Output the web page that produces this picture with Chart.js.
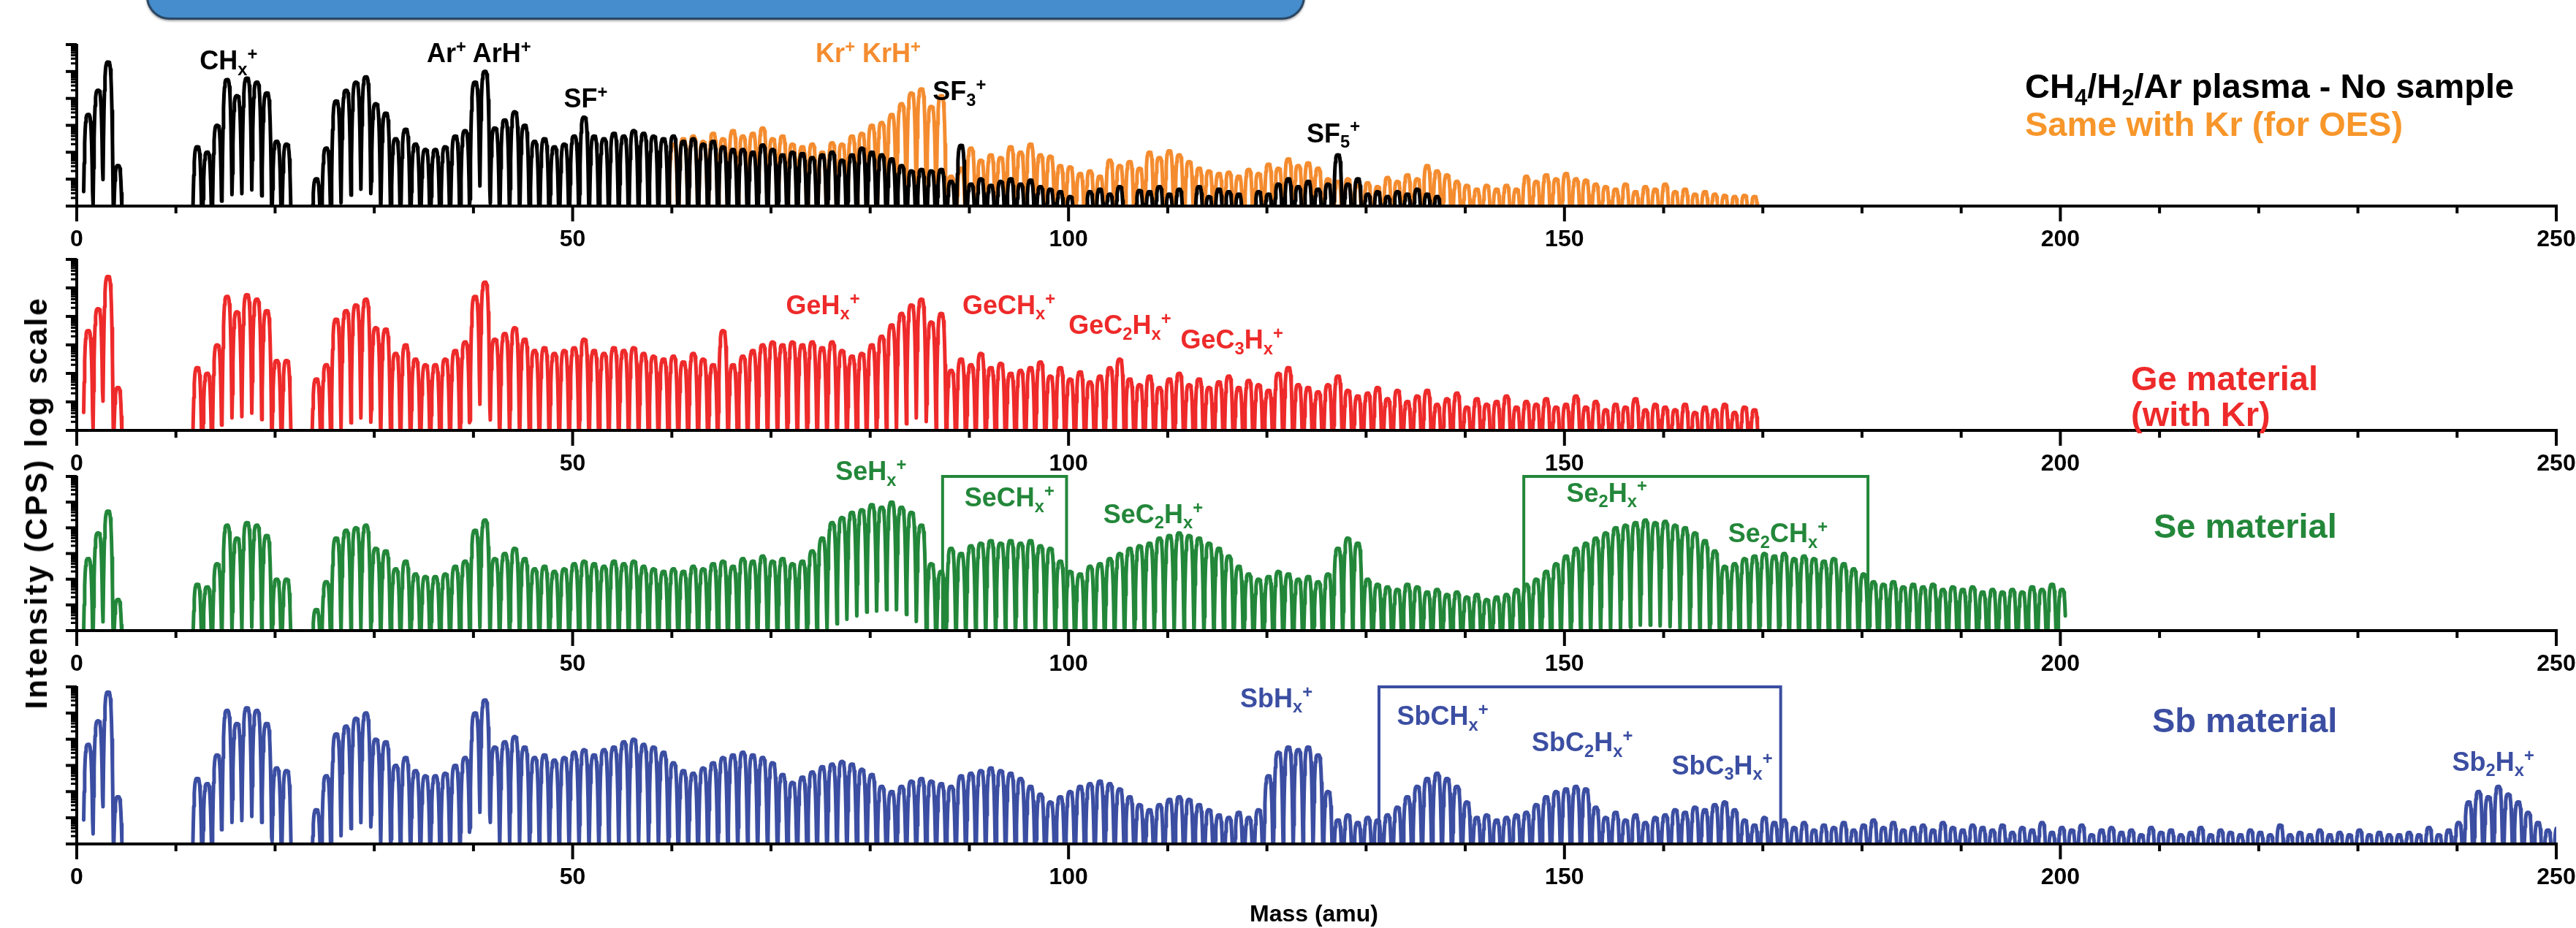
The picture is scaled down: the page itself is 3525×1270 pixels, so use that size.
<!DOCTYPE html>
<html>
<head>
<meta charset="utf-8">
<script src="https://cdn.jsdelivr.net/npm/chart.js@4.4.1/dist/chart.umd.min.js"></script>
<style>
  html, body { margin: 0; padding: 0; background: #fff; }
  body { width: 3525px; height: 1270px; position: relative; overflow: hidden;
         font-family: "Liberation Sans", Arial, Helvetica, sans-serif; }
  canvas { position: absolute; left: 0; }
  .lbl { position: absolute; font-weight: bold; white-space: nowrap; line-height: 1; z-index: 5;
         transform: translateY(-50%); }
  .lbl sub { font-size: 0.66em; vertical-align: baseline; position: relative; top: 0.32em; }
  .lbl sup { font-size: 0.66em; vertical-align: baseline; position: relative; top: -0.55em; }
  #banner { position: absolute; left: 200px; top: -79px; width: 1580px; height: 100px;
            background: #458dcc; border: 3px solid #2b4865; border-radius: 32px;
            box-shadow: 0 2px 3px rgba(0,0,0,0.35); }
  #ylab { position: absolute; left: 50px; top: 688px; font-size: 42px; font-weight: bold;
          letter-spacing: 3px; white-space: nowrap;
          transform: translate(-50%, -50%) rotate(-90deg); z-index: 5; }
  #xlab { position: absolute; left: 1798px; top: 1250px; font-size: 32px; font-weight: bold;
          white-space: nowrap; transform: translate(-50%, -50%); z-index: 5; }
</style>
</head>
<body>
<div id="banner"></div>
<div id="ylab">Intensity (CPS) log scale</div>
<div id="xlab">Mass (amu)</div>
<script>
// peak heights in decades above the axis minimum, one value per integer mass
const blackStart = 1;
const blackPeaks = [
  3.4, 4.3, 5.35, 1.5, null, null, null, null, null, null,
  null, 2.2, 2.0, 3.0, 4.7, 4.1, 4.75, 4.6, 4.2, 2.4,
  2.3, null, null, 1.0, 2.15, 3.9, 4.3, 4.6, 4.8, 3.8,
  3.45, 2.5, 2.85, 2.3, 2.1, 2.1, 2.2, 2.6, 2.8, 4.6,
  5.0, 2.9, 3.2, 3.5, 3.0, 2.4, 2.5, 2.2, 2.3, 2.6,
  3.3, 2.6, 2.5, 2.7, 2.6, 2.8, 2.7, 2.6, 2.5, 2.6,
  2.4, 2.5, 2.3, 2.4, 2.2, 2.1, 2.1, 2.0, 2.27, 2.1,
  1.9, 2.0, 1.95, 1.8, 1.9, 2.0, 1.7, 1.9, 2.15, 2.0,
  1.9, 1.75, 1.5, 1.3, 1.35, 1.3, 1.35, 0.9, 2.25, 0.8,
  1.0, 0.75, 0.9, 1.0, 0.8, 0.95, 0.7, 0.6, 0.5, 0.3,
  null, 0.5, 0.6, 0.4, 0.7, null, 0.55, 0.5, 0.7, 0.4,
  0.6, null, 0.7, 0.3, 0.6, 0.5, 0.4, null, 0.5, 0.4,
  0.8, 1.0, 0.7, 0.9, 0.6, 0.8, 1.9, 0.8, 1.0, 0.4,
  0.5, 0.3, 0.5, 0.4, 0.6, 0.4, 0.3
];
const blackRanges = [[0.7, 4.7], [11.6, 21.6], [23.7, 137.6]];

const orangeStart = 60;
const orangePeaks = [
  2.3, 2.5, 2.6, 2.4, 2.7, 2.5, 2.8, 2.6, 2.7, 2.9,
  2.5, 2.6, 2.3, 2.2, 2.3, 2.0, 2.35, 2.3, 2.6, 2.7,
  3.0, 3.1, 3.4, 3.8, 4.2, 4.35, 3.7, 4.1, 1.1, 1.4,
  2.15, 1.7, 1.9, 1.8, 2.2, 2.0, 2.3, 1.9, 1.85, 1.5,
  1.45, 1.2, 1.3, 1.1, 1.7, 1.5, 1.65, 1.4, 2.0, 1.8,
  2.05, 1.9, 1.65, 1.4, 1.3, 1.2, 1.25, 1.1, 1.35, 1.2,
  1.55, 1.4, 1.75, 1.5, 1.6, 1.4, 1.0, 0.9, 1.0, 0.8,
  0.85, 0.7, 1.05, 0.9, 1.15, 1.0, 1.5, 1.3, 1.15, 0.9,
  0.75, 0.6, 0.75, 0.6, 0.75, 0.6, 1.1, 0.9, 1.15, 1.0,
  1.2, 1.0, 0.95, 0.8, 0.7, 0.6, 0.8, 0.5, 0.7, 0.6,
  0.8, 0.5, 0.6, 0.4, 0.5, 0.4, 0.35, 0.3, 0.35, 0.3
];
const orangeRanges = [[59.6, 169.8]];

const geStart = 1;
const gePeaks = [
  3.5, 4.27, 5.4, 1.5, null, null, null, null, null, null,
  null, 2.2, 2.0, 3.0, 4.7, 4.16, 4.76, 4.6, 4.2, 2.45,
  2.45, null, null, 1.8, 2.3, 3.9, 4.2, 4.4, 4.6, 3.6,
  3.55, 2.7, 3.0, 2.5, 2.3, 2.3, 2.5, 2.8, 3.1, 4.7,
  5.2, 3.2, 3.4, 3.6, 3.2, 2.8, 2.9, 2.7, 2.8, 2.9,
  3.2, 2.8, 2.7, 2.9, 2.8, 2.9, 2.7, 2.6, 2.5, 2.6,
  2.4, 2.7, 2.5, 2.3, 3.5, 2.3, 2.6, 2.8, 3.0, 3.1,
  3.0, 3.1, 3.0, 3.1, 2.9, 3.1, 2.8, 2.6, 2.7, 3.0,
  3.3, 3.7, 4.1, 4.4, 4.6, 3.8, 4.1, 2.1, 2.5, 2.3,
  2.7, 2.2, 2.35, 2.0, 2.1, 2.2, 2.4, 1.9, 2.2, 1.8,
  2.05, 1.7, 1.9, 2.2, 2.5, 1.8, 1.6, 1.9, 1.5, 1.8,
  2.0, 1.6, 1.8, 1.5, 1.7, 1.9, 1.5, 1.75, 1.6, 1.4,
  2.0, 2.2, 1.6, 1.5, 1.35, 1.6, 1.9, 1.4, 1.2, 1.3,
  1.5, 1.1, 1.4, 1.0, 1.2, 1.4, 0.9, 1.1, 1.3, 0.8,
  1.1, 0.9, 1.0, 1.2, 0.8, 1.0, 0.9, 1.1, 0.8, 0.9,
  1.2, 0.8, 1.0, 0.7, 0.9, 0.8, 1.1, 0.7, 0.9, 0.8,
  0.7, 0.9, 0.6, 0.8, 0.7, 0.9, 0.6, 0.8, 0.7
];
const geRanges = [[0.7, 4.7], [11.6, 21.6], [23.7, 169.6]];

const seStart = 1;
const sePeaks = [
  2.8, 3.8, 4.65, 1.2, null, null, null, null, null, null,
  null, 1.8, 1.7, 2.6, 4.1, 3.6, 4.2, 4.1, 3.7, 2.0,
  2.0, null, null, 0.8, 1.9, 3.6, 3.9, 4.0, 4.1, 3.2,
  3.1, 2.4, 2.7, 2.2, 2.1, 2.1, 2.2, 2.5, 2.7, 3.9,
  4.3, 2.8, 3.0, 3.2, 2.8, 2.4, 2.5, 2.3, 2.4, 2.6,
  2.7, 2.6, 2.5, 2.7, 2.6, 2.7, 2.5, 2.4, 2.3, 2.4,
  2.3, 2.5, 2.4, 2.6, 2.7, 2.5, 2.8, 2.7, 2.9, 2.7,
  2.8, 2.6, 2.7, 3.1, 3.6, 4.2, 4.4, 4.6, 4.7, 4.9,
  4.8, 5.0, 4.8, 4.6, 4.1, 2.6, 2.3, 3.2, 3.0, 3.3,
  3.4, 3.5, 3.4, 3.5, 3.4, 3.5, 3.3, 3.2, 2.7, 2.3,
  2.2, 2.5, 2.6, 2.8, 3.0, 3.2, 3.3, 3.4, 3.6, 3.7,
  3.8, 3.7, 3.6, 3.4, 3.2, 2.9, 2.5, 2.2, 2.0, 2.1,
  2.3, 2.2, 2.0, 2.1, 1.9, 2.2, 3.2, 3.6, 3.4, 2.0,
  1.8, 1.7, 1.6, 1.8, 1.7, 1.5, 1.6, 1.4, 1.5, 1.3,
  1.4, 1.2, 1.3, 1.4, 1.6, 1.8, 2.0, 2.3, 2.6, 2.9,
  3.2, 3.4, 3.6, 3.8, 4.0, 4.1, 4.2, 4.3, 4.2, 4.25,
  4.1, 4.0, 3.8, 3.5, 3.1, 2.5, 2.6, 2.8, 2.9, 3.0,
  2.9, 3.0, 2.8, 2.9, 2.8, 2.7, 2.8, 2.6, 2.4, 2.2,
  1.9, 1.8, 1.9, 1.7, 1.8, 1.7, 1.8, 1.6, 1.7, 1.6,
  1.7, 1.5, 1.6, 1.5, 1.6, 1.5, 1.7, 1.6, 1.8, 1.6
];
const seRanges = [[0.7, 4.7], [11.6, 21.6], [23.7, 200.5]];

const sbStart = 1;
const sbPeaks = [
  3.8, 4.7, 5.8, 1.8, null, null, null, null, null, null,
  null, 2.5, 2.3, 3.4, 5.1, 4.6, 5.2, 5.1, 4.6, 2.9,
  2.8, null, null, 1.3, 2.6, 4.2, 4.5, 4.8, 5.0, 4.0,
  3.9, 3.0, 3.3, 2.8, 2.6, 2.6, 2.7, 3.0, 3.3, 5.0,
  5.5, 3.7, 3.9, 4.1, 3.7, 3.3, 3.4, 3.2, 3.3, 3.5,
  3.6, 3.4, 3.6, 3.7, 3.9, 4.0, 3.8, 3.7, 3.5, 3.1,
  2.8, 2.7, 2.9, 3.1, 3.3, 3.4, 3.5, 3.4, 3.3, 3.1,
  2.65, 2.35, 2.55, 2.75, 2.95, 3.05, 3.15, 3.05, 2.85, 2.65,
  2.2, 2.0, 2.2, 2.4, 2.5, 2.4, 2.3, 2.2, 2.6, 2.7,
  2.8, 2.9, 2.8, 2.7, 2.5, 2.2, 1.9, 1.6, 1.8, 2.0,
  2.2, 2.3, 2.4, 2.3, 2.1, 1.8, 1.5, 1.3, 1.5, 1.7,
  1.8, 1.7, 1.5, 1.3, 1.1, 1.0, 1.2, 1.0, 1.3, 2.6,
  3.5, 3.7, 3.6, 3.7, 3.4, 2.0, 0.9, 1.1, 0.8, 1.0,
  0.9, 1.1, 1.4, 1.8, 2.2, 2.5, 2.7, 2.5, 2.2, 1.6,
  1.0, 1.1, 0.9, 1.0, 1.1, 1.2, 1.5, 1.8, 2.0, 2.1,
  2.2, 2.1, 1.4, 1.0, 1.2, 0.9, 1.1, 0.8, 1.0, 1.1,
  1.3, 1.2, 1.4, 1.3, 1.5, 1.6, 1.3, 0.9, 0.7, 1.0,
  0.8, 0.9, 0.6, 0.8, 0.5, 0.7, 0.6, 0.8, 0.5, 0.7,
  0.9, 0.6, 0.8, 0.5, 0.6, 0.7, 0.5, 0.8, 0.6, 0.5,
  0.7, 0.6, 0.5, 0.7, 0.4, 0.6, 0.5, 0.8, 0.4, 0.6,
  0.5, 0.7, 0.3, 0.5, 0.6, 0.4, 0.5, 0.3, 0.6, 0.4,
  0.5, 0.3, 0.4, 0.6, 0.3, 0.5, 0.4, 0.3, 0.5, 0.4,
  0.3, 0.7, 0.3, 0.4, 0.3, 0.5, 0.3, 0.4, 0.3, 0.5,
  0.3, 0.4, 0.3, 0.3, 0.4, 0.3, 0.6, 0.3, 0.5, 0.8,
  1.6, 2.0, 1.8, 2.2, 1.9, 1.6, 1.2, 0.8, 0.5, 0.6
];
const sbRanges = [[0.7, 4.7], [11.6, 21.6], [23.7, 250]];

const xTicks = [0, 10, 20, 30, 40, 50, 60, 70, 80, 90, 100, 110, 120, 130, 140, 150,
                160, 170, 180, 190, 200, 210, 220, 230, 240, 250];
const xTickLabels = [0, 50, 100, 150, 200, 250];
const decades = [0, 1, 2, 3, 4, 5, 6];

// page layout
const W = 3525, AX_LEFT = 105, AX_RIGHT = 3498;
const panels = [
  { top: 61,  bottom: 281.7 },
  { top: 355, bottom: 589 },
  { top: 652, bottom: 863 },
  { top: 940, bottom: 1155 }
];
const PAD_TOP = 30, PAD_BOTTOM = 80;
const STEP = 0.05, SHIFT = 0.15, WIDTH = 0.28, FLOOR = Math.pow(10, -0.6);

function buildTrace(start, peaks, ranges) {
  const pts = [];
  ranges.forEach(([a, b]) => {
    for (let m = a; m <= b + 1e-9; m += STEP) {
      let s = FLOOR;
      for (let mz = Math.ceil(m - 1.5); mz <= Math.floor(m + 1.5); mz++) {
        const h = peaks[mz - start];
        if (h == null) continue;
        const u = (m - mz - SHIFT) / WIDTH;
        s += Math.pow(10, h) * Math.exp(-u * u * u * u);
      }
      pts.push({ x: m, y: s });
    }
    pts.push({ x: b + 0.02, y: null });
  });
  return pts;
}

const panelAxes = {
  id: 'panelAxes',
  afterDatasetsDraw(chart, args, opts) {
    const { ctx, scales: { x, y } } = chart;
    const x0 = x.getPixelForValue(0), x1 = x.getPixelForValue(250);
    const yb = y.getPixelForValue(1), yt = y.getPixelForValue(1e6);
    ctx.save();
    // boxes around ion groups
    (opts.boxes || []).forEach(bx => {
      ctx.lineWidth = 4;
      ctx.strokeStyle = bx.color;
      const xa = x.getPixelForValue(bx.from), xb = x.getPixelForValue(bx.to);
      ctx.strokeRect(xa, yt, xb - xa, yb - yt);
    });
    ctx.strokeStyle = '#000';
    // y ticks, log decades with minor ticks
    decades.forEach(d => {
      const py = y.getPixelForValue(Math.pow(10, d));
      ctx.lineWidth = 4;
      ctx.beginPath(); ctx.moveTo(x0 - 15, py); ctx.lineTo(x0, py); ctx.stroke();
      if (d < 6) {
        ctx.lineWidth = 3;
        for (let k = 2; k <= 9; k++) {
          const pm = y.getPixelForValue(k * Math.pow(10, d));
          ctx.beginPath(); ctx.moveTo(x0 - 8, pm); ctx.lineTo(x0, pm); ctx.stroke();
        }
      }
    });
    // axis lines
    ctx.lineWidth = 4;
    ctx.beginPath(); ctx.moveTo(x0, yt - 1); ctx.lineTo(x0, yb); ctx.lineTo(x1 + 2, yb); ctx.stroke();
    // x ticks
    xTicks.forEach(v => {
      const px = x.getPixelForValue(v);
      const len = v % 50 === 0 ? 21 : 10;
      ctx.beginPath(); ctx.moveTo(px, yb); ctx.lineTo(px, yb + len); ctx.stroke();
    });
    ctx.fillStyle = '#000';
    ctx.font = 'bold 32px "Liberation Sans", Arial, sans-serif';
    ctx.textAlign = 'center';
    ctx.textBaseline = 'alphabetic';
    xTickLabels.forEach(v => ctx.fillText(String(v), x.getPixelForValue(v), yb + 55));
    ctx.restore();
  }
};

const series = [
  { panel: 0, start: blackStart, peaks: blackPeaks, ranges: blackRanges, color: '#000000', order: 0 },
  { panel: 0, start: orangeStart, peaks: orangePeaks, ranges: orangeRanges, color: '#f48c2f', order: 1 },
  { panel: 1, start: geStart, peaks: gePeaks, ranges: geRanges, color: '#ee2a2a', order: 0 },
  { panel: 2, start: seStart, peaks: sePeaks, ranges: seRanges, color: '#23873a', order: 0 },
  { panel: 3, start: sbStart, peaks: sbPeaks, ranges: sbRanges, color: '#3b4ea2', order: 0 }
];

const boxes = [
  [],
  [],
  [{ from: 87.3, to: 99.8, color: '#23873a' }, { from: 145.9, to: 180.6, color: '#23873a' }],
  [{ from: 131.3, to: 171.8, color: '#3b4ea2' }]
];

// ion labels, placed in data units (mass of left edge, decade of text centre)
const ionLabels = [
  { panel: 0, m: 12.4, d: 5.4, color: '#000', html: 'CH<sub>x</sub><sup>+</sup>' },
  { panel: 0, m: 35.3, d: 5.67, color: '#000', html: 'Ar<sup>+</sup> ArH<sup>+</sup>' },
  { panel: 0, m: 49.1, d: 4.0, color: '#000', html: 'SF<sup>+</sup>' },
  { panel: 0, m: 86.3, d: 4.25, color: '#000', html: 'SF<sub>3</sub><sup>+</sup>' },
  { panel: 0, m: 124.0, d: 2.7, color: '#000', html: 'SF<sub>5</sub><sup>+</sup>' },
  { panel: 0, m: 74.5, d: 5.67, color: '#f48c2f', html: 'Kr<sup>+</sup> KrH<sup>+</sup>' },
  { panel: 1, m: 71.5, d: 4.39, color: '#ee2a2a', html: 'GeH<sub>x</sub><sup>+</sup>' },
  { panel: 1, m: 89.3, d: 4.39, color: '#ee2a2a', html: 'GeCH<sub>x</sub><sup>+</sup>' },
  { panel: 1, m: 100.0, d: 3.69, color: '#ee2a2a', html: 'GeC<sub>2</sub>H<sub>x</sub><sup>+</sup>' },
  { panel: 1, m: 111.3, d: 3.17, color: '#ee2a2a', html: 'GeC<sub>3</sub>H<sub>x</sub><sup>+</sup>' },
  { panel: 2, m: 76.5, d: 6.2, color: '#23873a', html: 'SeH<sub>x</sub><sup>+</sup>' },
  { panel: 2, m: 89.5, d: 5.17, color: '#23873a', html: 'SeCH<sub>x</sub><sup>+</sup>' },
  { panel: 2, m: 103.5, d: 4.53, color: '#23873a', html: 'SeC<sub>2</sub>H<sub>x</sub><sup>+</sup>' },
  { panel: 2, m: 150.2, d: 5.36, color: '#23873a', html: 'Se<sub>2</sub>H<sub>x</sub><sup>+</sup>' },
  { panel: 2, m: 166.5, d: 3.77, color: '#23873a', html: 'Se<sub>2</sub>CH<sub>x</sub><sup>+</sup>' },
  { panel: 3, m: 117.3, d: 5.56, color: '#3b4ea2', html: 'SbH<sub>x</sub><sup>+</sup>' },
  { panel: 3, m: 133.1, d: 4.88, color: '#3b4ea2', html: 'SbCH<sub>x</sub><sup>+</sup>' },
  { panel: 3, m: 146.7, d: 3.88, color: '#3b4ea2', html: 'SbC<sub>2</sub>H<sub>x</sub><sup>+</sup>' },
  { panel: 3, m: 160.8, d: 3.0, color: '#3b4ea2', html: 'SbC<sub>3</sub>H<sub>x</sub><sup>+</sup>' },
  { panel: 3, m: 239.5, d: 3.13, color: '#3b4ea2', html: 'Sb<sub>2</sub>H<sub>x</sub><sup>+</sup>' }
];

// sample descriptions on the right, page pixels
const sideLabels = [
  { x: 2771, y: 117, color: '#000', html: 'CH<sub>4</sub>/H<sub>2</sub>/Ar plasma - No sample' },
  { x: 2771, y: 169, color: '#f7962a', html: 'Same with Kr (for OES)' },
  { x: 2916, y: 517, color: '#ee2a2a', html: 'Ge material' },
  { x: 2916, y: 566, color: '#ee2a2a', html: '(with Kr)' },
  { x: 2947, y: 719, color: '#23873a', html: 'Se material' },
  { x: 2945, y: 985, color: '#3b4ea2', html: 'Sb material' }
];

function addLabel(html, left, top, color, size) {
  const el = document.createElement('div');
  el.className = 'lbl';
  el.innerHTML = html;
  el.style.left = left + 'px';
  el.style.top = top + 'px';
  el.style.color = color;
  el.style.fontSize = size + 'px';
  document.body.appendChild(el);
}

const charts = panels.map((p, i) => {
  const cv = document.createElement('canvas');
  const h = Math.round(p.bottom - p.top) + PAD_TOP + PAD_BOTTOM;
  const cTop = Math.round(p.top) - PAD_TOP;
  cv.width = W; cv.height = h;
  cv.style.top = cTop + 'px';
  cv.style.width = W + 'px'; cv.style.height = h + 'px';
  document.body.appendChild(cv);
  const datasets = series.filter(s => s.panel === i).map(s => ({
    data: buildTrace(s.start, s.peaks, s.ranges),
    borderColor: s.color,
    borderWidth: 5,
    order: s.order,
    pointRadius: 0,
    tension: 0,
    spanGaps: false,
    borderJoinStyle: 'round',
    borderCapStyle: 'round'
  }));
  const chart = new Chart(cv, {
    type: 'line',
    data: { datasets },
    options: {
      responsive: false,
      animation: false,
      devicePixelRatio: 1,
      parsing: false,
      normalized: true,
      events: [],
      layout: { padding: { left: AX_LEFT, right: W - AX_RIGHT, top: PAD_TOP, bottom: PAD_BOTTOM } },
      plugins: { legend: { display: false }, tooltip: { enabled: false }, panelAxes: { boxes: boxes[i] } },
      scales: {
        x: { type: 'linear', min: 0, max: 250, display: false },
        y: { type: 'logarithmic', min: 1, max: 1e6, display: false }
      }
    },
    plugins: [panelAxes]
  });
  return { chart, cTop };
});

ionLabels.forEach(l => {
  const { chart, cTop } = charts[l.panel];
  const px = chart.scales.x.getPixelForValue(l.m);
  const py = cTop + chart.scales.y.getPixelForValue(Math.pow(10, l.d));
  addLabel(l.html, px, py, l.color, 36);
});
sideLabels.forEach(l => addLabel(l.html, l.x, l.y, l.color, 47));
</script>
</body>
</html>
